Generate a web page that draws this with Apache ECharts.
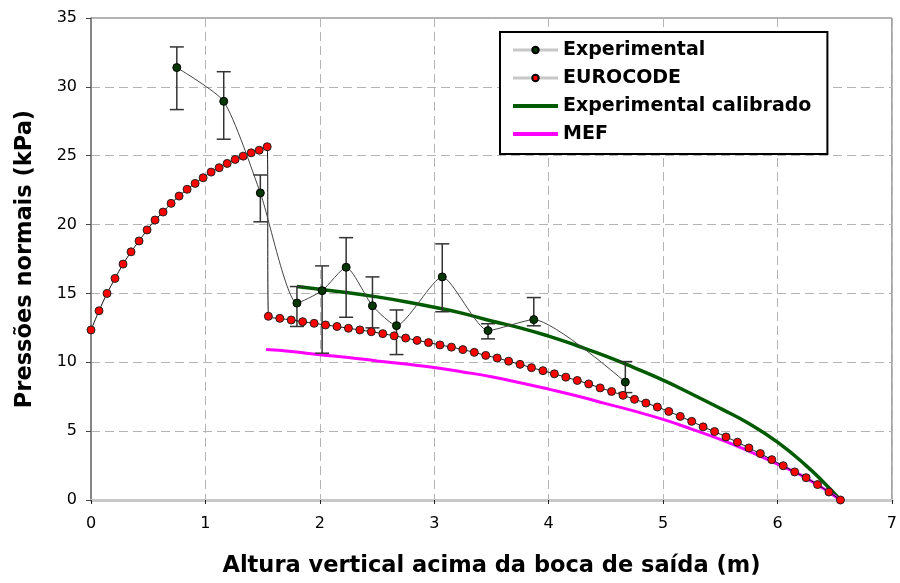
<!DOCTYPE html>
<html>
<head>
<meta charset="utf-8">
<script src="https://cdn.jsdelivr.net/npm/echarts@6/dist/echarts.min.js"></script>
<style>
html,body{margin:0;padding:0;background:#fff;}
#chart{width:900px;height:583px;}
</style>
</head>
<body>
<div id="chart"></div>
<script>
// ---- Data ----
const xTicks = [0,1,2,3,4,5,6,7];
const yTicks = [0,5,10,15,20,25,30,35];

// Experimental points with error bars
const expX    = [0.75, 1.16, 1.48, 1.80, 2.02, 2.23, 2.46, 2.67, 3.07, 3.47, 3.87, 4.67];
const expY    = [31.4, 28.95, 22.3, 14.3, 15.2, 16.9, 14.1, 12.66, 16.2, 12.3, 13.1, 8.56];
const expLow  = [28.35, 26.2, 20.2, 12.6, 10.66, 13.27, 12.5, 10.56, 13.67, 11.7, 12.65, 7.8];
const expHigh = [32.9, 31.1, 23.6, 15.5, 17.0, 19.05, 16.2, 13.8, 18.6, 12.8, 14.7, 10.05];

// EUROCODE points (two branches)
const euroX = [0, 0.07, 0.14, 0.21, 0.28, 0.35, 0.42, 0.49, 0.56, 0.63, 0.70, 0.77, 0.84, 0.91, 0.98, 1.05, 1.12, 1.19, 1.26, 1.33, 1.40, 1.47, 1.54,
  1.55, 1.65, 1.75, 1.85, 1.95, 2.05, 2.15, 2.25, 2.35, 2.45, 2.55, 2.65, 2.75, 2.85, 2.95, 3.05, 3.15, 3.25, 3.35, 3.45, 3.55, 3.65, 3.75, 3.85, 3.95,
  4.05, 4.15, 4.25, 4.35, 4.45, 4.55, 4.65, 4.75, 4.85, 4.95, 5.05, 5.15, 5.25, 5.35, 5.45, 5.55, 5.65, 5.75, 5.85, 5.95, 6.05, 6.15, 6.25, 6.35, 6.45, 6.55];
const euroY = [12.35, 13.74, 15.0, 16.09, 17.13, 18.02, 18.81, 19.61, 20.33, 20.91, 21.54, 22.07, 22.56, 22.99, 23.40, 23.81, 24.13, 24.44, 24.73, 24.97, 25.21, 25.40, 25.65,
  13.34, 13.19, 13.07, 12.95, 12.83, 12.71, 12.60, 12.47, 12.35, 12.22, 12.08, 11.92, 11.76, 11.59, 11.43, 11.26, 11.10, 10.92, 10.72, 10.50, 10.31, 10.08, 9.85, 9.61, 9.39,
  9.16, 8.92, 8.68, 8.43, 8.14, 7.88, 7.60, 7.31, 7.04, 6.75, 6.43, 6.07, 5.71, 5.31, 4.97, 4.58, 4.20, 3.78, 3.37, 2.93, 2.49, 2.04, 1.62, 1.12, 0.58, 0.0];

// Experimental calibrado
const calX = [1.8, 2.0, 2.25, 2.5, 2.75, 3.0, 3.25, 3.5, 3.75, 4.0, 4.25, 4.5, 4.75, 5.0, 5.25, 5.5, 5.75, 6.0, 6.25, 6.4, 6.55];
const calY = [15.5, 15.3, 15.05, 14.75, 14.4, 14.0, 13.55, 13.0, 12.5, 11.9, 11.2, 10.45, 9.6, 8.7, 7.7, 6.65, 5.55, 4.2, 2.5, 1.3, 0.0];

// MEF
const mefX = [1.53, 1.75, 2.0, 2.25, 2.5, 2.75, 3.0, 3.25, 3.5, 3.75, 4.0, 4.25, 4.5, 4.75, 5.0, 5.25, 5.5, 5.75, 6.0, 6.25, 6.55];
const mefY = [10.92, 10.78, 10.55, 10.35, 10.1, 9.87, 9.62, 9.3, 8.95, 8.52, 8.05, 7.55, 7.0, 6.45, 5.85, 5.15, 4.4, 3.55, 2.6, 1.6, 0.0];

const seriesNames = ['Experimental', 'EUROCODE', 'Experimental calibrado', 'MEF'];
const xTitle = 'Altura vertical acima da boca de saída (m)';
const yTitle = 'Pressões normais (kPa)';

// ---- Build ----
const zip = (a, b) => a.map((v, i) => [v, b[i]]);
const errData = expX.map((x, i) => [x, expLow[i], expHigh[i]]);
const FONT = 'DejaVu Sans';

const chart = echarts.init(document.getElementById('chart'), null, {renderer: 'canvas'});
chart.setOption({
  backgroundColor: '#fff',
  animation: false,
  grid: {left: 91, right: 3, top: 18, bottom: 82, show: true, borderColor: '#666', borderWidth: 1},
  legend: {
    left: 500, top: 32, orient: 'vertical',
    backgroundColor: '#fff',
    borderColor: '#000', borderWidth: 2,
    padding: [8, 16, 10, 11],
    itemWidth: 45, itemHeight: 8, itemGap: 8,
    textStyle: {fontFamily: FONT, fontWeight: 'bold', fontSize: 19, color: '#000', lineHeight: 20},
    data: [
      {name: seriesNames[0], lineStyle: {color: '#c8c8c8', width: 3}, itemStyle: {color: '#063806', borderColor: '#000'}},
      {name: seriesNames[1], lineStyle: {color: '#c8c8c8', width: 3}, itemStyle: {color: '#ff0000', borderColor: '#000'}},
      {name: seriesNames[2], lineStyle: {color: '#005a00', width: 4}, itemStyle: {opacity: 0, borderWidth: 0}},
      {name: seriesNames[3], lineStyle: {color: '#ff00ff', width: 4}, itemStyle: {opacity: 0, borderWidth: 0}}
    ]
  },
  xAxis: {
    type: 'value', min: 0, max: 7, interval: 1,
    name: xTitle, nameLocation: 'middle', nameGap: 55,
    nameTextStyle: {fontFamily: FONT, fontWeight: 'bold', fontSize: 22.5, color: '#000'},
    axisLine: {show: true, lineStyle: {color: '#c8c8c8', width: 3}},
    axisTick: {show: true, length: 4, lineStyle: {color: '#222', width: 1}},
    axisLabel: {fontFamily: FONT, fontSize: 16, color: '#000', margin: 16,
      formatter: v => String(xTicks[xTicks.indexOf(v)])},
    splitLine: {show: true, lineStyle: {color: '#b4b4b4', type: [9, 5], width: 1}}
  },
  yAxis: {
    type: 'value', min: 0, max: 35, interval: 5,
    name: yTitle, nameLocation: 'middle', nameGap: 54,
    nameTextStyle: {fontFamily: FONT, fontWeight: 'bold', fontSize: 22.5, color: '#000'},
    axisLine: {show: true, lineStyle: {color: '#777', width: 1.5}},
    axisTick: {show: true, length: 5, lineStyle: {color: '#444'}},
    axisLabel: {fontFamily: FONT, fontSize: 16, color: '#000', margin: 14,
      formatter: v => String(yTicks[yTicks.indexOf(v)])},
    splitLine: {show: true, lineStyle: {color: '#b4b4b4', type: [9, 5], width: 1}}
  },
  series: [
    {
      name: 'Experimental', type: 'line', data: zip(expX, expY), smooth: 0.2,
      symbol: 'circle', symbolSize: 8,
      lineStyle: {color: '#444', width: 1},
      itemStyle: {color: '#063806', borderColor: '#000', borderWidth: 1}, z: 6
    },
    {
      name: 'EUROCODE', type: 'line', data: zip(euroX, euroY), smooth: 0.3,
      symbol: 'circle', symbolSize: 8, showAllSymbol: true,
      lineStyle: {color: '#111', width: 1},
      itemStyle: {color: '#ff0000', borderColor: '#222', borderWidth: 1}, z: 5
    },
    {
      name: 'Experimental calibrado', type: 'line', data: zip(calX, calY), smooth: true, showSymbol: false, symbol: 'none',
      lineStyle: {color: '#005a00', width: 3.5}, itemStyle: {color: '#005a00'}, z: 3
    },
    {
      name: 'MEF', type: 'line', data: zip(mefX, mefY), smooth: true, showSymbol: false, symbol: 'none',
      lineStyle: {color: '#ff00ff', width: 3}, itemStyle: {color: '#ff00ff'}, z: 3
    },
    {
      name: 'Experimental', type: 'custom', data: errData,
      encode: {x: 0, y: [1, 2]},
      renderItem: function (params, api) {
        const x = api.value(0);
        const pH = api.coord([x, api.value(2)]);
        const pL = api.coord([x, api.value(1)]);
        const w = 7;
        const st = {stroke: '#333', lineWidth: 1.5};
        return {type: 'group', children: [
          {type: 'line', shape: {x1: pH[0], y1: pH[1], x2: pL[0], y2: pL[1]}, style: st},
          {type: 'line', shape: {x1: pH[0] - w, y1: pH[1], x2: pH[0] + w, y2: pH[1]}, style: st},
          {type: 'line', shape: {x1: pL[0] - w, y1: pL[1], x2: pL[0] + w, y2: pL[1]}, style: st}
        ]};
      },
      z: 4
    }
  ]
});
</script>
</body>
</html>
